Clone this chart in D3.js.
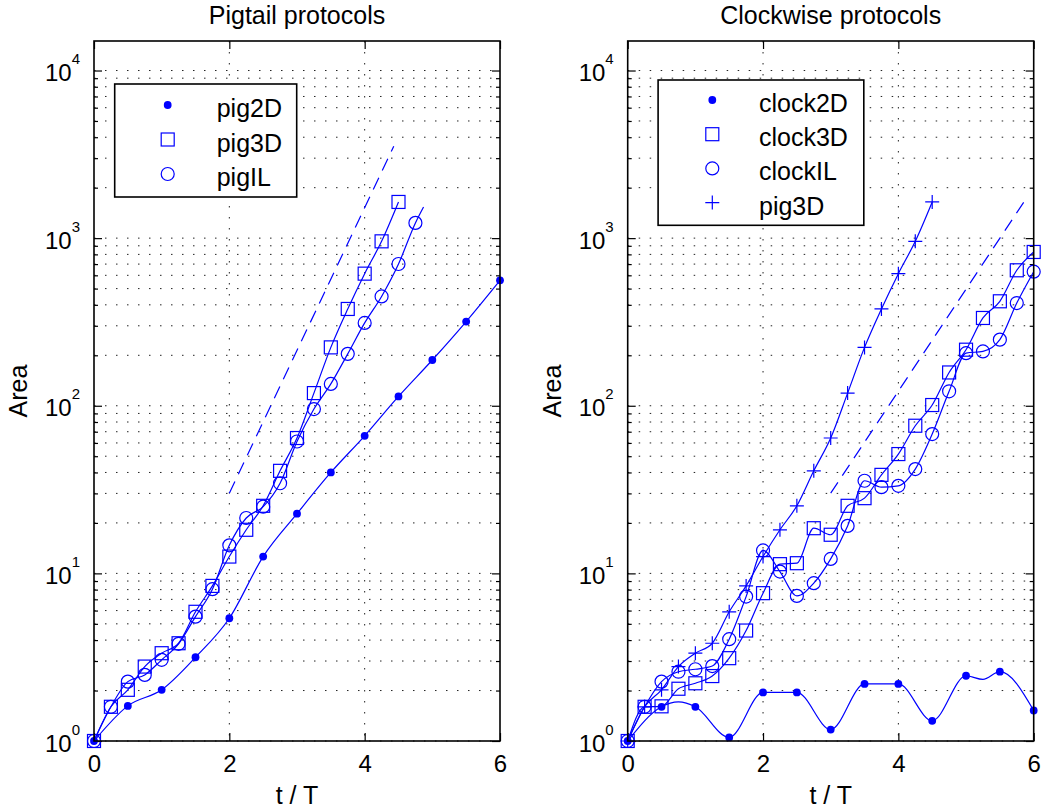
<!DOCTYPE html>
<html>
<head>
<meta charset="utf-8">
<script src="https://cdn.jsdelivr.net/npm/d3@7"></script>
<style>
  body { margin: 0; background: #fff; }
  text { font-family: "Liberation Sans", Arial, Helvetica, sans-serif; }
</style>
</head>
<body>
<script>
// time steps (t / T)
var halfSteps = [0, 0.5, 1, 1.5, 2, 2.5, 3, 3.5, 4, 4.5, 5, 5.5, 6];
var quarterSteps = [0, 0.25, 0.5, 0.75, 1, 1.25, 1.5, 1.75, 2, 2.25, 2.5, 2.75, 3,
                    3.25, 3.5, 3.75, 4, 4.25, 4.5, 4.75, 5, 5.25, 5.5, 5.75, 6];

// Pigtail protocols
var pig2D = [1, 1.62, 2.02, 3.16, 5.4, 12.6, 22.7, 40, 66.2, 113.7, 187.5, 318, 560];
var pig3D = [1, 1.6, 2.02, 2.78, 3.34, 3.83, 5.9, 8.42, 12.6, 18.2, 25.3, 40.9, 64.2,
             119, 223, 378, 614, 957, 1644];
var pigIL = [1, 1.6, 2.26, 2.48, 3.05, 3.8, 5.52, 8.05, 14.7, 21.4, 25, 34.5, 61.2,
             95.6, 135, 204, 312, 449, 701, 1233];
var pigILTailT = [4.87], pigILTailV = [1535];
var pigRefT = [2.0, 4.43], pigRefV = [30.1, 3530];

// Clockwise protocols
var clock2D = [1, 1.6, 1.6, 1.05, 1.95, 1.95, 1.17, 2.19, 2.19, 1.32, 2.45, 2.59, 1.52];
var clock2DExtraT = [0.75, 5.25], clock2DExtraV = [1.71, 2.33];
var clock3D = [1, 1.6, 1.61, 2.05, 2.21, 2.44, 3.12, 4.56, 7.62, 11.35, 11.5, 18.6, 17.0,
               25.3, 28.1, 38.7, 51.5, 76, 101, 158, 216, 334, 420, 643, 827];
var clockIL = [1, 1.6, 2.26, 2.59, 2.68, 2.8, 4.05, 7.27, 13.7, 10.25, 7.34, 8.74, 12.2,
               19.2, 35.7, 32.7, 33.3, 41.9, 67.8, 122, 206, 211, 248, 410, 631];
var clockRefT = [3.0, 5.9], clockRefV = [30.1, 1750];

// axis ticks
var xTicks = [0, 2, 4, 6];
var yDecades = [1, 10, 100, 1000, 10000];
var yMultiples = [2, 3, 4, 5, 6, 7, 8, 9];

var blue = "#0000ff";
var plotTop = 41, W = 406, H = 700;

var svg = d3.select("body").append("svg")
    .attr("width", 1050)
    .attr("height", 811);

function zip(ts, vs) {
    return vs.map(function(v, i) { return [ts[i], v]; });
}

function addMarker(sel, type) {
    if (type === "dot") {
        sel.append("circle").attr("r", 3.9).attr("fill", blue);
    } else if (type === "square") {
        sel.append("rect").attr("x", -6.5).attr("y", -6.5).attr("width", 13).attr("height", 13)
            .attr("fill", "none").attr("stroke", blue).attr("stroke-width", 1.2);
    } else if (type === "circle") {
        sel.append("circle").attr("r", 6.5)
            .attr("fill", "none").attr("stroke", blue).attr("stroke-width", 1.2);
    } else if (type === "plus") {
        sel.append("path").attr("d", "M-7,0H7M0,-7V7")
            .attr("fill", "none").attr("stroke", blue).attr("stroke-width", 1.2);
    }
}

function drawPanel(p) {
    var g = svg.append("g")
        .attr("transform", "translate(" + p.left + "," + plotTop + ")");

    var x = d3.scaleLinear().domain([0, 6]).range([0, W]);
    var y = d3.scaleLog().domain([1, 15000]).range([H, 0]);

    var minor = [];
    yDecades.slice(0, 4).forEach(function(d) {
        yMultiples.forEach(function(k) { minor.push(d * k); });
    });

    // dotted grid
    var grid = g.append("g")
        .attr("stroke", "#222")
        .attr("stroke-width", 1)
        .attr("stroke-dasharray", "1.5,9.5");
    grid.selectAll(".gy").data(yDecades.concat(minor)).enter().append("line")
        .attr("x1", 0).attr("x2", W)
        .attr("y1", function(d) { return y(d); })
        .attr("y2", function(d) { return y(d); });
    grid.selectAll(".gx").data([2, 4]).enter().append("line")
        .attr("y1", 0).attr("y2", H)
        .attr("x1", function(d) { return x(d); })
        .attr("x2", function(d) { return x(d); });

    // axes
    var yAxisGroup = g.append("g").attr("class", "y axis")
        .call(d3.axisLeft(y).tickValues(yDecades).tickSize(-8).tickPadding(14));
    yAxisGroup.selectAll(".tick text").each(function(d) {
        var t = d3.select(this);
        t.text(null).attr("dy", "0.42em").attr("font-size", "24px");
        t.append("tspan").text("10");
        t.append("tspan").attr("dy", -17).attr("font-size", "15px")
            .text(Math.round(Math.log10(d)));
    });
    g.append("g").call(d3.axisLeft(y).tickValues(minor).tickSize(-4).tickFormat(""));
    g.append("g").attr("transform", "translate(" + W + ",0)")
        .call(d3.axisRight(y).tickValues(yDecades).tickSize(-8).tickFormat(""));
    g.append("g").attr("transform", "translate(" + W + ",0)")
        .call(d3.axisRight(y).tickValues(minor).tickSize(-4).tickFormat(""));

    var xAxisGroup = g.append("g").attr("class", "x axis")
        .attr("transform", "translate(0," + H + ")")
        .call(d3.axisBottom(x).tickValues(xTicks).tickSize(-8).tickPadding(14)
            .tickFormat(d3.format("d")));
    xAxisGroup.selectAll(".tick text").attr("font-size", "24px");
    g.append("g").call(d3.axisTop(x).tickValues(xTicks).tickSize(-8).tickFormat(""));

    g.selectAll(".domain").remove();
    g.selectAll(".tick line").attr("stroke", "#000").attr("stroke-width", 1.2);
    g.selectAll(".tick text").attr("fill", "#000")
        .attr("font-family", "'Liberation Sans', Arial, sans-serif");

    var line = d3.line()
        .x(function(d) { return x(d[0]); })
        .y(function(d) { return y(d[1]); })
        .curve(d3.curveMonotoneX);

    // reference dashed line
    g.append("path")
        .attr("d", d3.line()
            .x(function(d) { return x(d[0]); })
            .y(function(d) { return y(d[1]); })(zip(p.refT, p.refV)))
        .attr("fill", "none").attr("stroke", blue).attr("stroke-width", 1.2)
        .attr("stroke-dasharray", "13,8");

    // series
    p.series.forEach(function(s) {
        var pts = zip(s.t, s.v);
        var linePts = pts.concat(s.extra || []).sort(function(a, b) { return a[0] - b[0]; });
        g.append("path")
            .attr("d", line(linePts))
            .attr("fill", "none").attr("stroke", blue).attr("stroke-width", 1.2);
        g.append("g").selectAll("g").data(pts).enter().append("g")
            .attr("transform", function(d) { return "translate(" + x(d[0]) + "," + y(d[1]) + ")"; })
            .each(function() { addMarker(d3.select(this), s.marker); });
    });

    // box
    g.append("rect")
        .attr("width", W).attr("height", H)
        .attr("fill", "none").attr("stroke", "#000").attr("stroke-width", 1.6);

    // legend
    var lg = g.append("g").attr("transform", "translate(" + p.legend.x + "," + p.legend.y + ")");
    lg.append("rect")
        .attr("width", p.legend.w).attr("height", p.legend.h)
        .attr("fill", "#fff").attr("stroke", "#000").attr("stroke-width", 1.6);
    p.legend.items.forEach(function(it, i) {
        var cy = p.legend.row0 + i * p.legend.step;
        var m = lg.append("g").attr("transform", "translate(" + p.legend.mx + "," + cy + ")");
        addMarker(m, it.marker);
        lg.append("text")
            .attr("x", p.legend.tx).attr("y", cy + 12)
            .attr("font-size", "25px")
            .text(it.label);
    });

    // title and labels
    g.append("text")
        .attr("x", W / 2).attr("y", -17)
        .attr("text-anchor", "middle")
        .attr("font-size", "25px")
        .text(p.title);
    g.append("text")
        .attr("x", W / 2).attr("y", H + 63)
        .attr("text-anchor", "middle")
        .attr("font-size", "25px")
        .text("t / T");
    g.append("text")
        .attr("transform", "rotate(-90)")
        .attr("x", -H / 2).attr("y", -67)
        .attr("text-anchor", "middle")
        .attr("font-size", "25px")
        .text("Area");
}

drawPanel({
    left: 94,
    title: "Pigtail protocols",
    refT: pigRefT, refV: pigRefV,
    series: [
        { t: halfSteps, v: pig2D, marker: "dot" },
        { t: quarterSteps.slice(0, pig3D.length), v: pig3D, marker: "square" },
        { t: quarterSteps.slice(0, pigIL.length), v: pigIL, marker: "circle",
          extra: zip(pigILTailT, pigILTailV) }
    ],
    legend: { x: 20.7, y: 43, w: 182, h: 113, mx: 53, tx: 102, row0: 21, step: 34.5,
              items: [{ marker: "dot", label: "pig2D" },
                      { marker: "square", label: "pig3D" },
                      { marker: "circle", label: "pigIL" }] }
});

drawPanel({
    left: 627.7,
    title: "Clockwise protocols",
    refT: clockRefT, refV: clockRefV,
    series: [
        { t: halfSteps, v: clock2D, marker: "dot", extra: zip(clock2DExtraT, clock2DExtraV) },
        { t: quarterSteps, v: clock3D, marker: "square" },
        { t: quarterSteps, v: clockIL, marker: "circle" },
        { t: quarterSteps.slice(0, pig3D.length), v: pig3D, marker: "plus" }
    ],
    legend: { x: 30.4, y: 39, w: 205.7, h: 145.3, mx: 54.2, tx: 100.9, row0: 20, step: 34.2,
              items: [{ marker: "dot", label: "clock2D" },
                      { marker: "square", label: "clock3D" },
                      { marker: "circle", label: "clockIL" },
                      { marker: "plus", label: "pig3D" }] }
});
</script>
</body>
</html>
